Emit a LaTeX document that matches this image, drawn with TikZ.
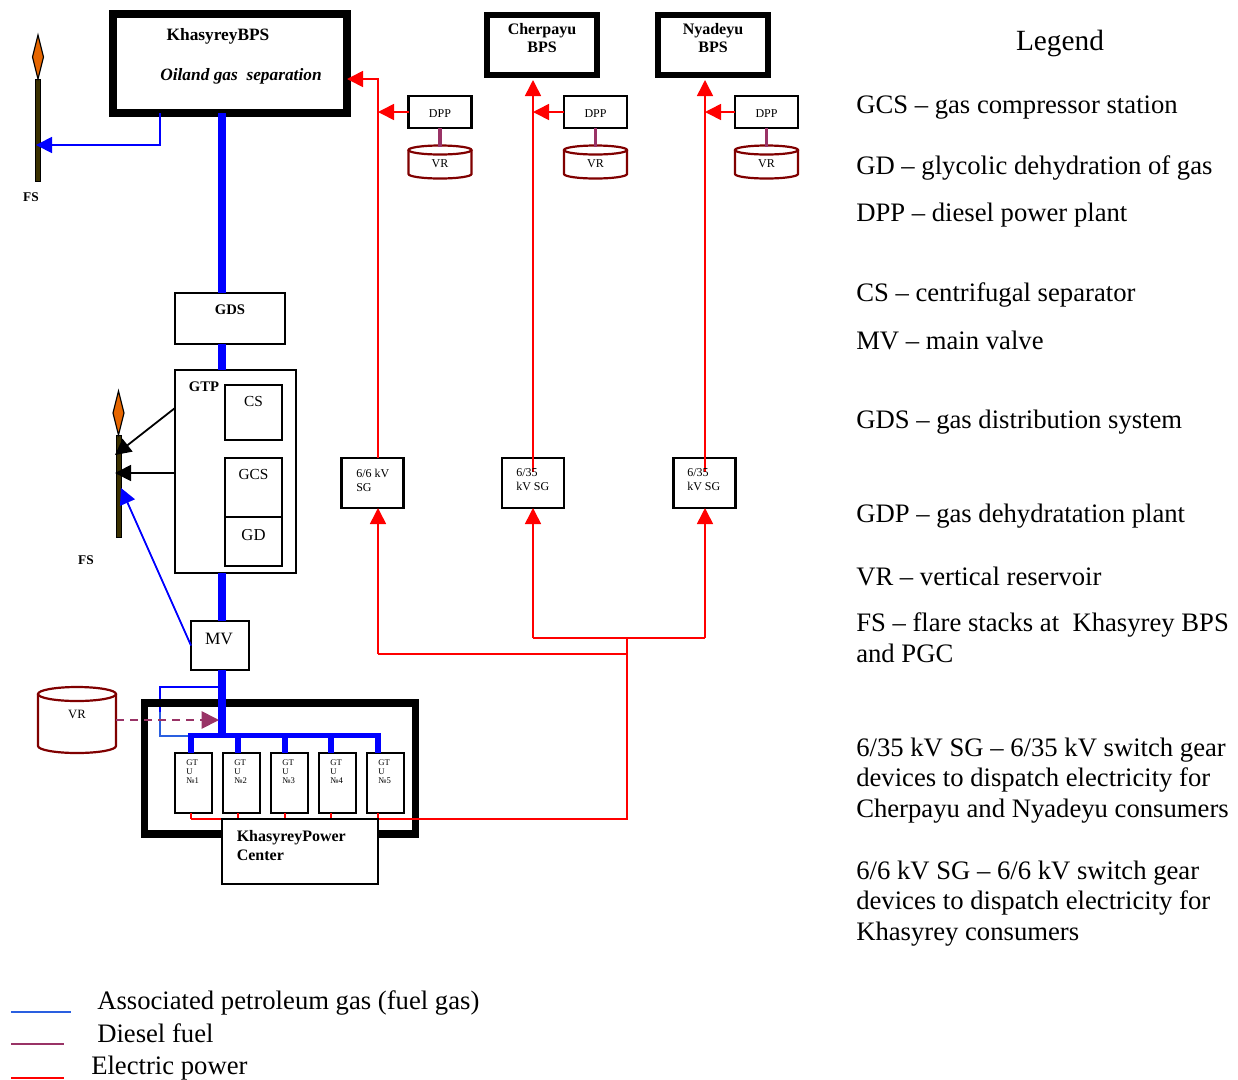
\documentclass[tikz,border=0pt]{standalone}
\usepackage{fontspec}
\setmainfont{Liberation Serif}
\usetikzlibrary{shapes.geometric,arrows.meta,positioning,calc}

\newcommand{\pxu}{0.75pt}
\definecolor{gasblue}{HTML}{0000FF}
\definecolor{keyblue}{HTML}{2A5FE0}
\definecolor{dieselpurple}{HTML}{993366}
\definecolor{tankred}{HTML}{800000}
\definecolor{flameorange}{HTML}{E66600}
\definecolor{poleolive}{HTML}{3A3000}

% outline of a reservoir over its empty node: name, x radius, y radius
\newcommand{\tankdraw}[3]{%
  \draw[tankline, fill=white] ($(#1.north west)+(0,#3)$) -- ($(#1.south west)+(0,-#3)$)
    arc[start angle=180, end angle=360, x radius=#2*\pxu, y radius=#3*\pxu]
    -- ($(#1.north east)+(0,#3)$);
  \draw[tankline, fill=white] ($(#1.north)+(0,#3)$) ellipse[x radius=#2*\pxu, y radius=#3*\pxu];
}

\begin{document}
\begin{tikzpicture}[x=\pxu, y=-\pxu,
  box/.style    ={rectangle, draw=black, fill=white, outer sep=0pt, inner sep=0pt,
                  line width=2.2*\pxu},
  station/.style={box, line width=5.5*\pxu, minimum width=110*\pxu, minimum height=60*\pxu},
  dpp/.style    ={box, minimum width=63*\pxu, minimum height=32*\pxu, text height=8pt,
                  font=\fontsize{9}{10}\selectfont},
  sg/.style     ={box, minimum width=62*\pxu, minimum height=50*\pxu},
  gtu/.style    ={box, minimum width=37*\pxu, minimum height=60*\pxu},
  tankbox/.style={rectangle, inner sep=0pt, outer sep=0pt},
  tankline/.style={draw=tankred, line width=2.2*\pxu},
  flame/.style  ={diamond, draw=black, fill=flameorange, inner sep=0pt, outer sep=0pt,
                  line width=1.2*\pxu, minimum width=11*\pxu, minimum height=44*\pxu, aspect=0.25},
  pole/.style   ={rectangle, draw=black, fill=poleolive, inner sep=0pt, outer sep=0pt,
                  line width=1*\pxu, minimum width=5.5*\pxu, minimum height=102*\pxu},
  boldtxt/.style={font=\fontsize{11}{13}\bfseries\selectfont, inner sep=0pt},
  smalltxt/.style={font=\fontsize{9}{10}\selectfont, inner sep=0pt},
  midtxt/.style ={font=\fontsize{11.5}{13}\selectfont, inner sep=0pt},
  sgtxt/.style  ={font=\fontsize{9}{10.5}\selectfont, inner sep=0pt, align=left, anchor=west},
  gtutxt/.style ={font=\fontsize{6.5}{7}\selectfont, inner sep=0pt, align=left, anchor=north west},
  keytxt/.style ={font=\fontsize{20}{23}\selectfont, inner sep=0pt, align=left, anchor=west},
  trunk/.style  ={gasblue, line width=7.5*\pxu},
  branch/.style ={gasblue, line width=5.5*\pxu},
  gas/.style    ={gasblue, line width=1.8*\pxu},
  gastip/.style ={gas, -{Triangle[length=12pt, width=12pt]}},
  flare/.style  ={black, line width=1.8*\pxu, -{Triangle[length=12pt, width=12pt]}},
  power/.style  ={red, line width=1.6*\pxu},
  powertip/.style={power, -{Triangle[length=12pt, width=12pt]}},
  diesel/.style ={dieselpurple, line width=3.5*\pxu},
  dieselflow/.style={dieselpurple, line width=1.8*\pxu, dash pattern=on 6pt off 4.5pt,
                  -{Triangle[length=13pt, width=13pt]}},
]
\useasboundingbox (0,0) rectangle (1238,1079);

% === Fixed points on the lines ===
\coordinate (trunkX) at (222,0);
\coordinate (riserA) at (378,654);
\coordinate (riserB) at (533,638);
\coordinate (riserC) at (705,638);
\coordinate (hubLow) at (627,819);
\coordinate (hubA)   at (627,654);
\coordinate (hubB)   at (627,638);
\coordinate (kbpsIn) at (347,79);
\coordinate (cbpsIn) at (533,80);
\coordinate (nbpsIn) at (705,80);
\coordinate (sgBin)  at (533,472);
\coordinate (sgCin)  at (705,472);

% === Top: booster pump stations ===
\node[station, minimum width=234*\pxu, minimum height=99*\pxu, line width=8*\pxu] (kbps) at (230,63.5) {};
\node[boldtxt, font=\fontsize{13}{15}\bfseries\selectfont] (kbpsName) at (218,36.5) {KhasyreyBPS};
\node[boldtxt, font=\fontsize{13}{15}\bfseries\itshape\selectfont] (kbpsSub) at (241,76.5) {Oiland gas\ \ separation};
\node[station] (cbps) at (542,45) {};
\node[boldtxt, align=center, font=\fontsize{12}{13}\bfseries\selectfont] (cbpsName) at (542,38) {Cherpayu\\BPS};
\node[station] (nbps) at (713,45) {};
\node[boldtxt, align=center, font=\fontsize{12}{13}\bfseries\selectfont] (nbpsName) at (713,38) {Nyadeyu\\BPS};

% === Diesel plants and reservoirs ===
\node[dpp] (dppA) at (440,112) {DPP};
\node[dpp] (dppB) at (595.5,112) {DPP};
\node[dpp] (dppC) at (766.5,112) {DPP};
\node[tankbox, minimum width=63*\pxu, minimum height=33*\pxu] (vrA) at (440,162) {};
\node[tankbox, minimum width=63*\pxu, minimum height=33*\pxu] (vrB) at (595.5,162) {};
\node[tankbox, minimum width=63*\pxu, minimum height=33*\pxu] (vrC) at (766.5,162) {};
\tankdraw{vrA}{31.5}{4.5}
\tankdraw{vrB}{31.5}{4.5}
\tankdraw{vrC}{31.5}{4.5}
\node[smalltxt] (vrAtxt) at (440,164) {VR};
\node[smalltxt] (vrBtxt) at (595.5,164) {VR};
\node[smalltxt] (vrCtxt) at (766.5,164) {VR};

% === Flare stacks ===
\node[pole] (poleA) at (38,130) {};
\node[flame] (flameA) at (38,57) {};
\node[boldtxt, font=\fontsize{10}{12}\bfseries\selectfont] (fsA) at (31,197) {FS};
\node[pole] (poleB) at (119,486.5) {};
\node[flame] (flameB) at (118.5,413) {};
\node[boldtxt, font=\fontsize{10}{12}\bfseries\selectfont] (fsB) at (86,560) {FS};

% === Gas line units ===
\node[box, minimum width=110*\pxu, minimum height=51*\pxu] (gds) at (230,318.5) {};
\node[boldtxt] (gdsTxt) at (230,310) {GDS};
\node[box, minimum width=121*\pxu, minimum height=203*\pxu] (gtp) at (235.5,471.5) {};
\node[boldtxt] (gtpTxt) at (204,387) {GTP};
\node[box, minimum width=57*\pxu, minimum height=55*\pxu] (cs) at (253.5,412.5) {};
\node[midtxt] (csTxt) at (253.5,401) {CS};
\node[box, minimum width=57*\pxu, minimum height=59*\pxu] (gcs) at (253.5,487.5) {};
\node[midtxt] (gcsTxt) at (253.5,474) {GCS};
\node[box, minimum width=57*\pxu, minimum height=49*\pxu] (gd) at (253.5,541.5) {};
\node[midtxt, font=\fontsize{12.5}{14}\selectfont] (gdTxt) at (253.5,535) {GD};
\node[box, minimum width=58*\pxu, minimum height=49*\pxu] (mv) at (220,645.5) {};
\node[midtxt, font=\fontsize{13}{15}\selectfont] (mvTxt) at (219,639) {MV};

% Bypass goes under the power centre frame
\coordinate (bypassTop) at (160,687);
\coordinate (bypassLow) at (160,736);
\draw[gas] (trunkX |- bypassTop) -- (bypassTop) -- (bypassLow);
\draw[gas, color=keyblue] (bypassTop) ++(0,25) -- (bypassLow) -- (trunkX |- bypassLow);

% === Power centre frame ===
\node[rectangle, draw=black, line width=7.5*\pxu, outer sep=0pt, inner sep=0pt,
      minimum width=271*\pxu, minimum height=131*\pxu] (frame) at (280,768.5) {};

% === Gas mains ===
\draw[trunk] (trunkX |- kbps.south) -- (trunkX |- gds.north);
\draw[trunk] (trunkX |- gds.south) -- (trunkX |- gtp.north);
\draw[trunk] (trunkX |- gtp.south) -- (trunkX |- mv.north);
\coordinate (busL) at (188,735.5);
\coordinate (busR) at (381,735.5);
\draw[trunk] (trunkX |- mv.south) -- (trunkX |- busL);
\draw[branch] (busL) -- (busR);

% === Turbines ===
\node[gtu] (gtuA) at (193.5,783) {};
\node[gtu] (gtuB) at (241.5,783) {};
\node[gtu] (gtuC) at (289.5,783) {};
\node[gtu] (gtuD) at (337.5,783) {};
\node[gtu] (gtuE) at (385.5,783) {};
\foreach \g/\n/\t/\gx in {gtuA/1/gtuAtxt/191, gtuB/2/gtuBtxt/238, gtuC/3/gtuCtxt/285, gtuD/4/gtuDtxt/331, gtuE/5/gtuEtxt/378} {
  \node[gtutxt] (\t) at ($(\g.north west)+(11,6)$) {GT\\U\\№\n};
  \coordinate (\g top) at (\gx,735.5);
  \draw[branch] (\g top) -- (\g top |- \g.north);
  \draw[power] (\g top |- \g.south) -- (\g top |- hubLow);
}

% === Electric power network ===
\draw[power] (gtuAtop |- hubLow) -- (hubLow) -- (hubB);
\draw[power] (hubA) -- (riserA);
\draw[power] (riserB) -- (riserC);
\node[box, minimum width=156*\pxu, minimum height=65*\pxu] (center) at (300,851.5) {};
\node[boldtxt, align=left, anchor=north west, font=\fontsize{12}{14.2}\bfseries\selectfont] (centerTxt) at (236.5,830) {KhasyreyPower\\Center};

\node[sg] (sgA) at (372.5,483) {};
\node[sgtxt] (sgAtxt) at (356,480) {6/6 kV\\SG};
\node[sg] (sgB) at (533,483) {};
\node[sg] (sgC) at (704.5,483) {};
\draw[powertip] (riserA) -- (riserA |- sgA.south);
\draw[powertip] (riserB) -- (riserB |- sgB.south);
\draw[powertip] (riserC) -- (riserC |- sgC.south);
\draw[powertip] (riserA |- sgA.north) |- (kbpsIn);
\draw[powertip] (sgBin) -- (cbpsIn);
\draw[powertip] (sgCin) -- (nbpsIn);
\node[sgtxt] (sgBtxt) at (516,480) {6/35\\kV SG};
\node[sgtxt] (sgCtxt) at (687,480) {6/35\\kV SG};
\draw[powertip] (dppA.west) -- (dppA.west -| riserA);
\draw[powertip] (dppB.west) -- (dppB.west -| riserB);
\draw[powertip] (dppC.west) -- (dppC.west -| riserC);

% === Diesel fuel ===
\draw[diesel] (dppA.south) -- ($(vrA.north)+(0,1)$);
\draw[diesel] (dppB.south) -- ($(vrB.north)+(0,1)$);
\draw[diesel] (dppC.south) -- ($(vrC.north)+(0,1)$);
\node[tankbox, minimum width=78*\pxu, minimum height=66*\pxu] (vrBig) at (77,720) {};
\tankdraw{vrBig}{39}{7}
\node[smalltxt, font=\fontsize{9.5}{11}\selectfont] (vrBigTxt) at (77,714) {VR};
\coordinate (dieselEnd) at (219,720);
\draw[dieselflow] (vrBig.east |- dieselEnd) -- (dieselEnd);

% === Gas to flares ===
\coordinate (flareInA) at (36,145);
\coordinate (kbpsOut) at (160,113);
\draw[gastip] (kbpsOut) |- (flareInA);
\coordinate (flareInB) at (115,455);
\coordinate (flareInC) at (115,473);
\coordinate (flareInD) at (121,488);
\draw[flare] (gtp.west |- 0,408) -- (flareInB);
\draw[flare] (gtp.west |- flareInC) -- (flareInC);
\draw[gastip] (mv.west) -- (flareInD);

% === Legend ===
\node[keytxt, font=\fontsize{22}{26}\selectfont, anchor=center] (keyTitle) at (1060,43) {Legend};
\node[keytxt] (keyGCS) at (856,107.5) {GCS – gas compressor station};
\node[keytxt] (keyGD)  at (856,168) {GD – glycolic dehydration of gas};
\node[keytxt] (keyDPP) at (856,215) {DPP – diesel power plant};
\node[keytxt] (keyCS)  at (856,295) {CS – centrifugal separator};
\node[keytxt] (keyMV)  at (856,340) {MV – main valve};
\node[keytxt] (keyGDS) at (856,422) {GDS – gas distribution system};
\node[keytxt] (keyGDP) at (856,516) {GDP – gas dehydratation plant};
\node[keytxt] (keyVR)  at (856,576) {VR – vertical reservoir};
\node[keytxt] (keyFS)  at (856,637.5) {FS – flare stacks at\ \ Khasyrey BPS\\and PGC};
\node[keytxt] (keySGb) at (856,780.5) {6/35 kV SG – 6/35 kV switch gear\\devices to dispatch electricity for\\Cherpayu and Nyadeyu consumers};
\node[keytxt] (keySGa) at (856,903.5) {6/6 kV SG – 6/6 kV switch gear\\devices to dispatch electricity for\\Khasyrey consumers};

% === Line key ===
\coordinate (lineGasL) at (11,1012);
\coordinate (lineGasR) at (71,1012);
\coordinate (lineOilL) at (11,1044);
\coordinate (lineOilR) at (64,1044);
\coordinate (linePowL) at (11,1078);
\coordinate (linePowR) at (64,1078);
\draw[gas, color=keyblue] (lineGasL) -- (lineGasR);
\draw[dieselpurple, line width=1.8*\pxu] (lineOilL) -- (lineOilR);
\draw[power] (linePowL) -- (linePowR);
\node[keytxt] (keyGas) at (97,1002.5) {Associated petroleum gas (fuel gas)};
\node[keytxt] (keyOil) at (97,1033) {Diesel fuel};
\node[keytxt] (keyPow) at (91,1068) {Electric power};

\end{tikzpicture}
\end{document}
